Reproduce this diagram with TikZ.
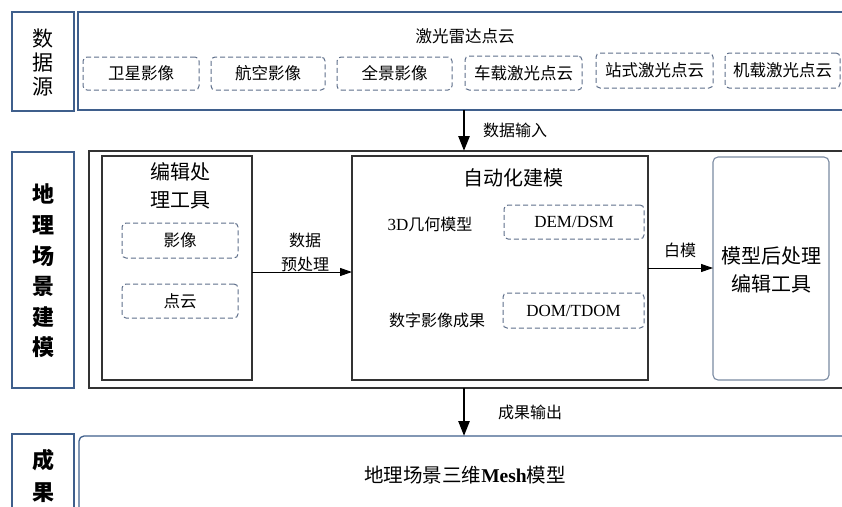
\documentclass[tikz,border=0pt]{standalone}
\usepackage{fontspec}
\setmainfont{Liberation Serif}
\newfontfamily\cjk{Noto Sans CJK SC}
\newfontfamily\lat{Liberation Serif}
\usetikzlibrary{arrows.meta}
\definecolor{navy}{HTML}{3F5F8C}
\definecolor{dk}{HTML}{333333}
\definecolor{dashc}{HTML}{5E6E8A}
\definecolor{postc}{HTML}{7A8AA2}
\tikzset{
  box/.style={inner sep=0pt, outer sep=0pt, anchor=north west},
  labbox/.style={box, draw=navy, line width=1.4pt},
  outerbox/.style={box, draw=navy, line width=1.3pt},
  midbox/.style={box, draw=dk, line width=1.3pt},
  innerbox/.style={box, draw=dk, line width=1.2pt},
  dbox/.style={box, draw=dashc, dash pattern=on 5pt off 3pt, rounded corners=4pt, line width=1pt, font=\cjk\fontsize{16.5}{18}\selectfont},
  postbox/.style={box, draw=postc, rounded corners=5pt, line width=1.1pt},
  txt/.style={inner sep=0pt, font=\cjk\fontsize{16}{24}\selectfont, align=center},
  bigtxt/.style={inner sep=0pt, font=\cjk\fontsize{20}{28}\selectfont, align=center},
  vlab/.style={inner sep=0pt, font=\cjk\bfseries\fontsize{22}{30.6}\selectfont, align=center},
  thickarrow/.style={line width=2.6pt, -{Triangle[length=15pt,width=11pt]}},
  thinarrow/.style={line width=1pt, -{Triangle[length=12pt,width=8pt]}}
}
\begin{document}
\begin{tikzpicture}[x=1pt,y=-1pt]
\useasboundingbox (0,0) rectangle (842,506);
\clip (0,0) rectangle (842,506);
% ---------- data sources ----------
\node[labbox, minimum width=62pt, minimum height=99pt] (dsl) at (12,12) {};
\node[vlab, font=\cjk\fontsize{21}{24}\selectfont] (dslt) at (43,63) {数\\据\\源};
\node[outerbox, minimum width=822pt, minimum height=98pt] (top) at (78,12) {};
\node[txt, font=\cjk\fontsize{16.5}{20}\selectfont] (lidar) at (465,36) {激光雷达点云};
\node[dbox, minimum width=116pt, minimum height=33pt] (s1) at (83,57) {卫星影像};
\node[dbox, minimum width=114pt, minimum height=33pt] (s2) at (211,57) {航空影像};
\node[dbox, minimum width=115pt, minimum height=33pt] (s3) at (337,57) {全景影像};
\node[dbox, minimum width=117pt, minimum height=34pt] (s4) at (465,56) {车载激光点云};
\node[dbox, minimum width=117pt, minimum height=35pt] (s5) at (596,53) {站式激光点云};
\node[dbox, minimum width=115pt, minimum height=35pt] (s6) at (725,53) {机载激光点云};
% ---------- modelling ----------
\node[labbox, minimum width=62pt, minimum height=236pt] (geol) at (12,152) {};
\node[vlab] (geolt) at (43,271) {地\\理\\场\\景\\建\\模};
\node[midbox, minimum width=811pt, minimum height=237pt] (mid) at (89,151) {};
\node[innerbox, minimum width=150pt, minimum height=224pt] (edit) at (102,156) {};
\node[bigtxt] (editt) at (180,186) {编辑处\\理工具};
\node[dbox, minimum width=116pt, minimum height=35pt] (img) at (122,223) {影像};
\node[dbox, minimum width=116pt, minimum height=34pt] (pc) at (122,284) {点云};
\node[innerbox, minimum width=296pt, minimum height=224pt] (auto) at (352,156) {};
\node[bigtxt] (autot) at (513,178) {自动化建模};
\node[txt] (geo3d) at (430,224) {{\lat\fontsize{17}{20}\selectfont 3D}几何模型};
\node[dbox, font=\lat\fontsize{17}{20}\selectfont, minimum width=140pt, minimum height=34pt] (dem) at (504,205) {DEM/DSM};
\node[txt] (digi) at (437,320) {数字影像成果};
\node[dbox, font=\lat\fontsize{17}{20}\selectfont, minimum width=141pt, minimum height=35pt] (dom) at (503,293) {DOM/TDOM};
\node[postbox, minimum width=116pt, minimum height=223pt] (post) at (713,157) {};
\node[bigtxt] (postt) at (771,270) {模型后处理\\编辑工具};
\coordinate (ay1) at (0,272);
\coordinate (ay2) at (0,268);
\draw[thinarrow] (edit.east |- ay1) -- (auto.west |- ay1);
\node[txt] (prep) at (305,252) {数据\\预处理};
\draw[thinarrow] (auto.east |- ay2) -- (post.west |- ay2);
\node[txt] (white) at (680,250) {白模};
% ---------- results ----------
\node[labbox, minimum width=62pt, minimum height=120pt] (resl) at (12,434) {};
\node[vlab, font=\cjk\bfseries\fontsize{22}{32}\selectfont] (reslt) at (43,476) {成\\果};
\node[outerbox, rounded corners=5pt, minimum width=821pt, minimum height=120pt] (bot) at (79,436) {};
\node[inner sep=0pt, font=\cjk\fontsize{19.5}{22}\selectfont] (mesh) at (465,475) {地理场景三维{\lat\bfseries Mesh}模型};
% ---------- vertical arrows ----------
\coordinate (ax) at (464,0);
\draw[thickarrow] (top.south -| ax) -- (mid.north -| ax);
\node[txt] (inp) at (515,130) {数据输入};
\draw[thickarrow] (mid.south -| ax) -- (bot.north -| ax);
\node[txt] (outp) at (530,412) {成果输出};
\end{tikzpicture}
\end{document}
